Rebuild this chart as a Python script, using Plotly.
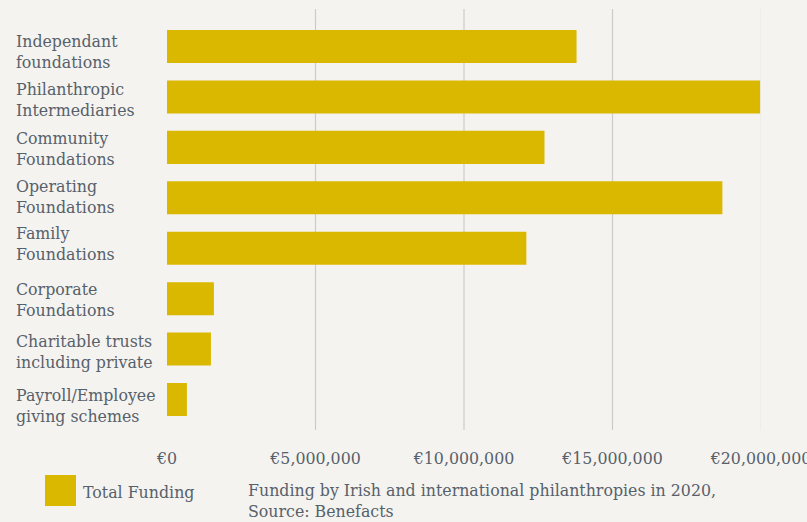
import plotly.graph_objects as go

categories = [
    "Independant<br>foundations",
    "Philanthropic<br>Intermediaries",
    "Community<br>Foundations",
    "Operating<br>Foundations",
    "Family<br>Foundations",
    "Corporate<br>Foundations",
    "Charitable trusts<br>including private",
    "Payroll/Employee<br>giving schemes",
]
total_funding = [13790000, 19970000, 12710000, 18700000, 12100000, 1580000, 1480000, 670000]
tick_values = [0, 5000000, 10000000, 15000000, 20000000]
tick_labels = ["€0", "€5,000,000", "€10,000,000", "€15,000,000", "€20,000,000"]
series_name = "Total Funding"
caption = "Funding by Irish and international philanthropies in 2020,<br>Source: Benefacts"

BG = "#F5F3EF"
GOLD = "#DBB800"
TXT = "#56616B"
FONT = "DejaVu Serif"
FS = 15.8

fig = go.Figure()
fig.add_trace(go.Bar(
    y=categories, x=total_funding, orientation="h",
    marker=dict(color=GOLD, line=dict(width=0)),
    name=series_name, showlegend=False, width=0.655,
    hoverinfo="skip",
))

label_shift = [-5.5, -3.5, -1.5, 1, 4.5, -1.5, -2.5, -7]
annotations = []
for c, s in zip(categories, label_shift):
    annotations.append(dict(
        x=0, xref="paper", y=c, yref="y", text=c, showarrow=False,
        xanchor="left", yanchor="middle", align="left", xshift=-153, yshift=s,
        font=dict(family=FONT, size=FS, color=TXT),
    ))

shapes = []
for tv in tick_values[1:]:
    shapes.append(dict(
        type="line", xref="x", yref="paper", x0=tv, x1=tv, y0=0, y1=1,
        line=dict(color="#CBCBCB" if tv < 20000000 else "#EBEAE6", width=1.2),
        layer="below",
    ))

W, H = 807, 522
L, R, T, B = 167, 46, 9, 92
pw, ph = W - L - R, H - T - B

def px(x):
    return (x - L) / pw

def py(y):
    return (H - B - y) / ph

shapes.append(dict(type="rect", xref="paper", yref="paper",
                   x0=px(45), x1=px(76), y0=py(506), y1=py(475),
                   fillcolor=GOLD, line=dict(width=0)))
annotations.append(dict(x=px(81), y=py(492), xref="paper", yref="paper",
                        text=series_name, showarrow=False, xanchor="left", yanchor="middle",
                        font=dict(family=FONT, size=FS, color=TXT)))
annotations.append(dict(x=px(246), y=py(501), xref="paper", yref="paper",
                        text=caption, showarrow=False, xanchor="left", yanchor="middle",
                        align="left",
                        font=dict(family=FONT, size=FS, color=TXT)))

fig.update_layout(
    width=W, height=H, paper_bgcolor=BG, plot_bgcolor=BG,
    margin=dict(l=L, r=R, t=T, b=B, autoexpand=False),
    font=dict(family=FONT, size=FS, color=TXT),
    bargap=0.35,
    xaxis=dict(range=[0, 20000000], tickvals=tick_values, ticktext=tick_labels,
               showgrid=False, zeroline=False, showline=False,
               ticks="outside", ticklen=14, tickcolor=BG,
               ticklabeloverflow="allow", automargin=False,
               tickfont=dict(family=FONT, size=FS, color=TXT), fixedrange=True),
    yaxis=dict(categoryorder="array", categoryarray=categories,
               range=[7.605, -0.744], showticklabels=False, showgrid=False,
               zeroline=False, showline=False, fixedrange=True, automargin=False),
    shapes=shapes, annotations=annotations,
)

fig.write_html("out.html")
